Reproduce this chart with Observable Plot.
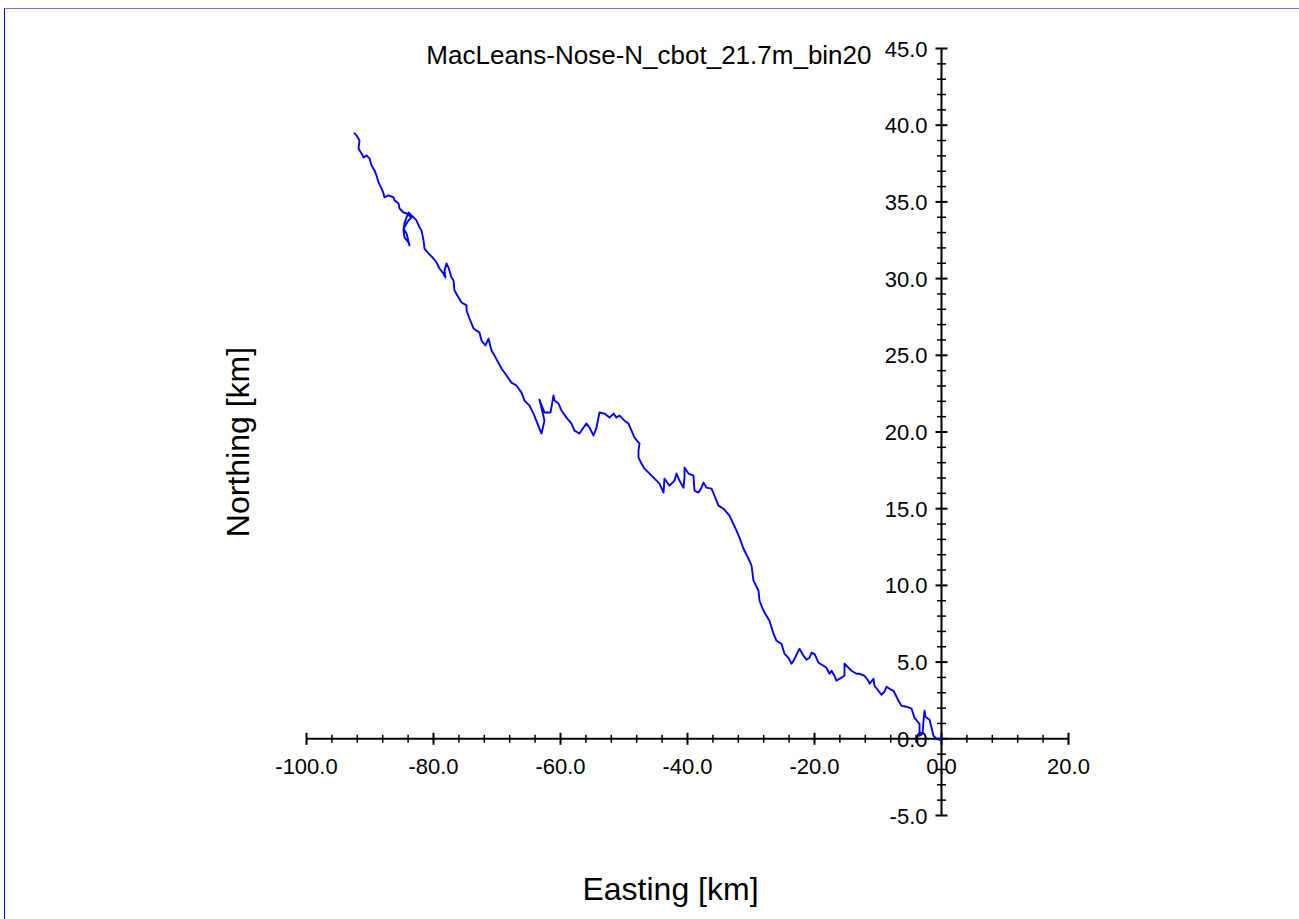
<!DOCTYPE html>
<html>
<head>
<meta charset="utf-8">
<script src="https://cdn.jsdelivr.net/npm/d3@7"></script>
<script src="https://cdn.jsdelivr.net/npm/@observablehq/plot@0.6"></script>
<style>
  html, body { margin: 0; padding: 0; background: #fff; }
  #wrap { position: relative; width: 1299px; height: 919px; overflow: hidden; }
  #wrap svg { position: absolute; left: 0; top: 0; }
  #border { position: absolute; left: 4px; top: 8px; width: 1400px; height: 1000px;
            border-top: 1px solid #6f6fff; border-left: 1.5px solid #0000ff; pointer-events: none; }
</style>
</head>
<body>
<div id="wrap"><div id="border"></div></div>
<script>
// Progressive vector diagram: cumulative displacement of the current (km)
const title = "MacLeans-Nose-N_cbot_21.7m_bin20";
const xLabel = "Easting [km]";
const yLabel = "Northing [km]";

const easting = [
  0.00, -0.31, -0.79, -1.26, -1.57, -1.89, -2.52, -2.68, -2.83, -2.99,
  -3.46, -3.46, -4.25, -4.72, -5.51, -6.30, -6.77, -7.56, -8.19, -8.66,
  -8.98, -9.45, -10.55, -10.71, -11.34, -11.50, -12.13, -12.91, -13.39, -14.17,
  -14.65, -15.28, -15.28, -15.28, -16.06, -16.54, -16.85, -17.32, -17.64, -18.11,
  -18.58, -19.37, -20.00, -20.47, -20.79, -21.26, -21.73, -22.36, -22.52, -23.31,
  -23.62, -24.09, -24.72, -25.20, -25.98, -26.46, -27.09, -28.03, -28.66, -28.82,
  -29.61, -29.92, -30.24, -31.18, -31.81, -32.28, -33.39, -34.33, -35.12, -35.75,
  -36.22, -37.01, -37.48, -37.80, -38.27, -38.90, -39.06, -39.84, -40.47, -40.47,
  -40.63, -41.26, -41.73, -42.05, -42.83, -43.62, -43.78, -44.41, -44.88, -45.35,
  -46.14, -46.77, -47.24, -47.72, -47.72, -47.56, -48.35, -48.82, -49.29, -49.92,
  -50.71, -51.18, -51.65, -52.28, -53.07, -53.86, -54.02, -54.33, -54.80, -55.43,
  -55.91, -56.38, -57.01, -57.80, -58.27, -59.06, -59.84, -60.31, -60.94, -61.10,
  -61.57, -62.52, -63.15, -63.31, -62.83, -62.52, -62.99, -63.62, -64.25, -64.88,
  -65.67, -66.14, -66.93, -67.72, -68.50, -69.29, -70.39, -70.87, -71.34, -71.81,
  -72.44, -72.76, -73.70, -74.33, -74.80, -74.80, -75.59, -76.06, -76.69, -76.85,
  -77.17, -77.64, -77.95, -78.27, -78.11, -78.43, -79.06, -79.53, -80.00, -80.79,
  -81.42, -81.57, -81.89, -82.20, -82.68, -83.15, -83.78, -83.94, -84.25, -84.57,
  -84.72, -84.57, -83.94, -83.78, -84.25, -84.72, -83.94, -83.46, -84.25, -84.72,
  -85.35, -85.51, -86.14, -86.30, -87.09, -87.72, -87.87, -88.19, -88.66, -88.98,
  -89.29, -89.76, -90.08, -90.55, -91.02, -91.34, -91.65, -91.81, -91.65, -92.13,
  -92.44
];
const northing = [
  0.07, -0.07, 0.00, 0.20, 0.72, 1.24, 1.44, 1.83, 1.17, 0.33,
  0.20, 0.98, 1.37, 1.96, 2.09, 2.15, 2.48, 3.13, 3.26, 3.39,
  3.07, 2.87, 3.46, 3.91, 3.59, 3.78, 4.11, 4.24, 4.24, 4.44,
  4.63, 4.89, 4.44, 4.11, 3.91, 3.78, 4.11, 4.44, 4.24, 4.63,
  4.76, 4.96, 5.54, 5.61, 5.28, 5.15, 5.41, 5.87, 5.74, 5.09,
  4.89, 5.28, 5.54, 6.19, 6.39, 6.85, 7.70, 8.35, 9.00, 9.65,
  10.31, 11.29, 11.61, 12.39, 13.11, 13.57, 14.55, 15.00, 15.20, 15.85,
  16.31, 16.37, 16.70, 16.37, 16.05, 16.18, 17.16, 17.29, 17.68, 17.03,
  16.37, 16.83, 17.29, 16.83, 16.50, 16.96, 16.05, 16.63, 16.83, 17.03,
  17.35, 17.61, 17.94, 18.33, 18.79, 19.24, 19.63, 20.09, 20.55, 20.74,
  21.07, 20.94, 21.20, 20.94, 21.20, 21.27, 20.94, 20.29, 19.77, 20.29,
  20.55, 20.29, 19.90, 20.09, 20.55, 20.94, 21.40, 21.85, 22.05, 22.38,
  21.27, 21.27, 21.92, 22.11, 21.27, 20.74, 19.90, 20.55, 21.20, 21.72,
  22.05, 22.57, 23.03, 23.22, 23.68, 24.14, 24.98, 25.31, 26.09, 25.64,
  25.96, 26.48, 26.75, 27.40, 27.92, 28.25, 28.44, 28.77, 29.22, 29.88,
  30.07, 30.72, 30.99, 30.53, 30.07, 30.33, 30.66, 31.05, 31.31, 31.64,
  31.96, 32.49, 33.14, 33.33, 33.79, 33.99, 34.25, 34.31, 33.99, 33.60,
  33.14, 32.68, 32.36, 32.16, 32.94, 33.27, 33.79, 33.99, 34.25, 34.31,
  34.57, 34.90, 35.10, 35.29, 35.42, 35.29, 35.55, 35.88, 36.27, 36.73,
  37.05, 37.38, 37.84, 38.03, 37.90, 38.16, 38.36, 38.49, 39.01, 39.34,
  39.47
];

// Axis ticks
const xMajor = [-100, -80, -60, -40, -20, 0, 20];
const yMajor = [-5, 0, 5, 10, 15, 20, 25, 30, 35, 40, 45];
const xMinor = d3.range(-100, 21, 4).filter(v => v % 20 !== 0);
const yMinor = d3.range(-5, 46, 1).filter(v => v % 5 !== 0);

const track = easting.map((e, i) => ({e, n: northing[i]}));
const fmt = v => v.toFixed(1);

// Short tick strokes centred on the axis lines
const vTick = {draw(ctx, size) { const r = Math.sqrt(size / Math.PI); ctx.moveTo(0, -r); ctx.lineTo(0, r); }};
const hTick = {draw(ctx, size) { const r = Math.sqrt(size / Math.PI); ctx.moveTo(-r, 0); ctx.lineTo(r, 0); }};

const font = "'Liberation Sans', Arial, sans-serif";

const chart = Plot.plot({
  width: 1299,
  height: 919,
  marginLeft: 306,
  marginRight: 231,
  marginTop: 48,
  marginBottom: 104,
  style: {fontFamily: font, background: "transparent", overflow: "visible"},
  x: {domain: [-100, 20], axis: null},
  y: {domain: [-5, 45], axis: null},
  marks: [
    // axis lines crossing at the origin
    Plot.ruleY([0], {x1: -100, x2: 20, stroke: "black", strokeWidth: 2}),
    Plot.ruleX([0], {y1: -5, y2: 45, stroke: "black", strokeWidth: 2}),
    // ticks
    Plot.dot(xMajor, {x: d => d, y: 0, symbol: vTick, r: 6, stroke: "black", fill: "none", strokeWidth: 2}),
    Plot.dot(xMinor, {x: d => d, y: 0, symbol: vTick, r: 4, stroke: "black", fill: "none", strokeWidth: 1.5}),
    Plot.dot(yMajor, {x: 0, y: d => d, symbol: hTick, r: 6, stroke: "black", fill: "none", strokeWidth: 2}),
    Plot.dot(yMinor, {x: 0, y: d => d, symbol: hTick, r: 4.5, stroke: "black", fill: "none", strokeWidth: 1.5}),
    // tick labels
    Plot.text(xMajor, {x: d => d, y: 0, text: fmt, dy: 28, fontSize: 22, fill: "black"}),
    Plot.text(yMajor, {x: 0, y: d => d, text: fmt, textAnchor: "end", dx: -14, dy: 1, fontSize: 22, fill: "black"}),
    // the track
    Plot.line(track, {x: "e", y: "n", stroke: "#0000ff", strokeWidth: 1.9, strokeLinejoin: "round"}),
    // titles
    Plot.text([title], {x: 0, y: 45, text: d => d, textAnchor: "end", dx: -70, dy: 7, fontSize: 26, fill: "black"}),
    Plot.text([xLabel], {frameAnchor: "bottom", text: d => d, textAnchor: "middle", lineAnchor: "middle",
                         dx: -17, dy: 74, fontSize: 32, fill: "black"}),
    Plot.text([yLabel], {frameAnchor: "left", text: d => d, textAnchor: "middle", lineAnchor: "middle",
                         rotate: -90, dx: -68, dy: 10, fontSize: 32, fill: "black"})
  ]
});

document.getElementById("wrap").prepend(chart);
</script>
</body>
</html>
